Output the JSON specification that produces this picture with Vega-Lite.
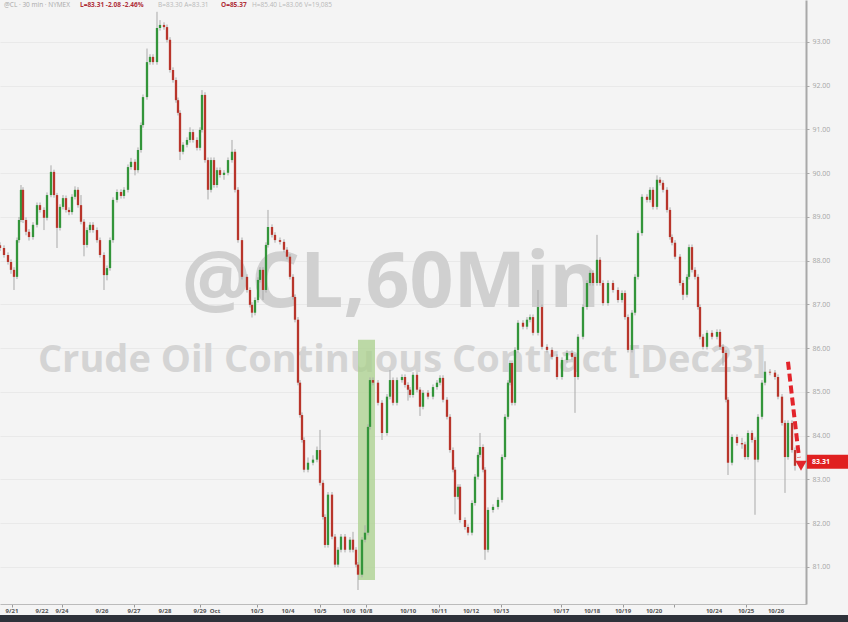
{
 "$schema": "https://vega.github.io/schema/vega-lite/v6.json",
 "width": 806,
 "height": 604,
 "autosize": {"type": "none"},
 "padding": {"left": 0, "top": 0, "right": 42, "bottom": 18},
 "background": "#f4f4f4",
 "config": {"view": {"stroke": null}, "font": "Open Sans"},
 "datasets": {
  "dates": [
   {"t":12,"d":"9/21"},{"t":42,"d":"9/22"},{"t":62,"d":"9/24"},{"t":102,"d":"9/26"},{"t":134,"d":"9/27"},
   {"t":165,"d":"9/28"},{"t":200,"d":"9/29"},{"t":215,"d":"Oct"},{"t":257,"d":"10/3"},{"t":288,"d":"10/4"},
   {"t":320,"d":"10/5"},{"t":349,"d":"10/6"},{"t":366,"d":"10/8"},{"t":408,"d":"10/10"},{"t":439,"d":"10/11"},
   {"t":471,"d":"10/12"},{"t":501,"d":"10/13"},{"t":561,"d":"10/17"},{"t":592,"d":"10/18"},{"t":623,"d":"10/19"},
   {"t":654,"d":"10/20"},{"t":714,"d":"10/24"},{"t":746,"d":"10/25"},{"t":776,"d":"10/26"}
  ],
  "candles": [
   {"t":0,"o":88.35,"c":88.29,"h":88.42,"l":88.22},
   {"t":4,"o":88.29,"c":88.13,"h":88.35,"l":88.07},
   {"t":8,"o":88.13,"c":87.97,"h":88.19,"l":87.91},
   {"t":11,"o":87.97,"c":87.79,"h":88.03,"l":87.70},
   {"t":14,"o":87.79,"c":87.63,"h":87.85,"l":87.33},
   {"t":17,"o":87.63,"c":88.47,"h":88.53,"l":87.58},
   {"t":19,"o":88.47,"c":88.93,"h":89.00,"l":88.41},
   {"t":21,"o":88.93,"c":89.62,"h":89.73,"l":88.88},
   {"t":23,"o":89.62,"c":88.93,"h":89.68,"l":88.86},
   {"t":26,"o":88.93,"c":88.66,"h":88.99,"l":88.58},
   {"t":29,"o":88.66,"c":88.54,"h":88.72,"l":88.46},
   {"t":33,"o":88.54,"c":88.82,"h":88.88,"l":88.48},
   {"t":37,"o":88.82,"c":89.27,"h":89.33,"l":88.76},
   {"t":40,"o":89.27,"c":89.16,"h":89.33,"l":89.10},
   {"t":44,"o":89.16,"c":88.98,"h":89.22,"l":88.70},
   {"t":47,"o":88.98,"c":89.50,"h":89.56,"l":88.92},
   {"t":51,"o":89.50,"c":90.03,"h":90.18,"l":89.45},
   {"t":54,"o":90.03,"c":89.50,"h":90.08,"l":89.44},
   {"t":57,"o":89.50,"c":88.75,"h":89.55,"l":88.29},
   {"t":60,"o":88.75,"c":89.23,"h":89.29,"l":88.69},
   {"t":63,"o":89.23,"c":89.43,"h":89.50,"l":89.17},
   {"t":66,"o":89.43,"c":89.16,"h":89.49,"l":89.10},
   {"t":69,"o":89.16,"c":89.11,"h":89.22,"l":89.04},
   {"t":72,"o":89.11,"c":89.46,"h":89.52,"l":89.05},
   {"t":75,"o":89.46,"c":89.62,"h":89.70,"l":89.40},
   {"t":78,"o":89.62,"c":89.27,"h":89.68,"l":89.21},
   {"t":81,"o":89.27,"c":88.89,"h":89.50,"l":88.83},
   {"t":84,"o":88.89,"c":88.36,"h":88.95,"l":88.10},
   {"t":87,"o":88.36,"c":88.70,"h":88.76,"l":88.30},
   {"t":90,"o":88.70,"c":88.82,"h":88.88,"l":88.64},
   {"t":93,"o":88.82,"c":88.70,"h":88.88,"l":88.64},
   {"t":97,"o":88.70,"c":88.47,"h":88.76,"l":88.41},
   {"t":100,"o":88.47,"c":88.13,"h":88.53,"l":88.07},
   {"t":104,"o":88.13,"c":87.67,"h":88.19,"l":87.33},
   {"t":107,"o":87.67,"c":87.83,"h":87.89,"l":87.55},
   {"t":110,"o":87.83,"c":88.47,"h":88.53,"l":87.77},
   {"t":113,"o":88.47,"c":89.39,"h":89.45,"l":88.41},
   {"t":117,"o":89.39,"c":89.57,"h":89.63,"l":89.33},
   {"t":121,"o":89.57,"c":89.48,"h":89.63,"l":89.42},
   {"t":124,"o":89.48,"c":89.62,"h":89.68,"l":89.42},
   {"t":128,"o":89.62,"c":90.14,"h":90.20,"l":89.56},
   {"t":131,"o":90.14,"c":90.26,"h":90.35,"l":90.08},
   {"t":135,"o":90.26,"c":90.07,"h":90.32,"l":89.95},
   {"t":138,"o":90.07,"c":90.53,"h":90.59,"l":90.01},
   {"t":141,"o":90.53,"c":91.10,"h":91.16,"l":90.47},
   {"t":143,"o":91.10,"c":91.74,"h":91.80,"l":91.04},
   {"t":147,"o":91.74,"c":92.54,"h":92.85,"l":91.68},
   {"t":150,"o":92.54,"c":92.66,"h":92.72,"l":92.48},
   {"t":153,"o":92.66,"c":92.54,"h":92.72,"l":92.48},
   {"t":157,"o":92.54,"c":93.32,"h":93.69,"l":92.48},
   {"t":160,"o":93.32,"c":93.39,"h":93.50,"l":93.26},
   {"t":164,"o":93.39,"c":93.34,"h":93.45,"l":93.28},
   {"t":167,"o":93.34,"c":93.05,"h":93.40,"l":92.99},
   {"t":170,"o":93.05,"c":92.36,"h":93.11,"l":92.30},
   {"t":173,"o":92.36,"c":92.13,"h":92.42,"l":92.07},
   {"t":176,"o":92.13,"c":91.67,"h":92.19,"l":91.61},
   {"t":178,"o":91.67,"c":91.38,"h":91.73,"l":91.32},
   {"t":180,"o":91.38,"c":90.49,"h":91.44,"l":90.30},
   {"t":183,"o":90.49,"c":90.65,"h":90.71,"l":90.43},
   {"t":187,"o":90.65,"c":90.76,"h":90.82,"l":90.59},
   {"t":190,"o":90.76,"c":90.94,"h":91.05,"l":90.70},
   {"t":193,"o":90.94,"c":90.76,"h":91.00,"l":90.70},
   {"t":197,"o":90.76,"c":90.58,"h":90.82,"l":90.52},
   {"t":200,"o":90.58,"c":90.99,"h":91.05,"l":90.52},
   {"t":202,"o":90.99,"c":91.79,"h":91.90,"l":90.93},
   {"t":205,"o":91.79,"c":90.30,"h":91.85,"l":90.24},
   {"t":208,"o":90.30,"c":89.62,"h":90.36,"l":89.40},
   {"t":211,"o":89.62,"c":90.30,"h":90.36,"l":89.56},
   {"t":214,"o":90.30,"c":89.73,"h":90.36,"l":89.67},
   {"t":217,"o":89.73,"c":90.07,"h":90.13,"l":89.67},
   {"t":220,"o":90.07,"c":89.96,"h":90.13,"l":89.90},
   {"t":224,"o":89.96,"c":90.01,"h":90.07,"l":89.85},
   {"t":228,"o":90.01,"c":90.30,"h":90.36,"l":89.95},
   {"t":232,"o":90.30,"c":90.49,"h":90.76,"l":90.24},
   {"t":235,"o":90.49,"c":89.62,"h":90.55,"l":89.56},
   {"t":238,"o":89.62,"c":88.47,"h":89.68,"l":88.41},
   {"t":242,"o":88.47,"c":87.63,"h":88.53,"l":87.57},
   {"t":247,"o":87.63,"c":87.33,"h":87.69,"l":87.27},
   {"t":250,"o":87.33,"c":86.99,"h":87.39,"l":86.93},
   {"t":252,"o":86.99,"c":86.81,"h":87.05,"l":86.70},
   {"t":255,"o":86.81,"c":87.10,"h":87.16,"l":86.75},
   {"t":258,"o":87.10,"c":87.56,"h":87.62,"l":87.04},
   {"t":260,"o":87.56,"c":87.79,"h":87.85,"l":87.50},
   {"t":263,"o":87.79,"c":87.33,"h":87.85,"l":87.10},
   {"t":266,"o":87.33,"c":88.36,"h":88.42,"l":87.27},
   {"t":268,"o":88.36,"c":88.77,"h":89.16,"l":88.30},
   {"t":272,"o":88.77,"c":88.59,"h":88.83,"l":88.53},
   {"t":275,"o":88.59,"c":88.47,"h":88.65,"l":88.41},
   {"t":280,"o":88.47,"c":88.43,"h":88.53,"l":88.37},
   {"t":284,"o":88.43,"c":88.25,"h":88.49,"l":88.19},
   {"t":287,"o":88.25,"c":88.09,"h":88.31,"l":88.03},
   {"t":290,"o":88.09,"c":87.63,"h":88.15,"l":87.57},
   {"t":293,"o":87.63,"c":87.17,"h":87.69,"l":87.11},
   {"t":295,"o":87.17,"c":86.65,"h":87.23,"l":86.59},
   {"t":298,"o":86.65,"c":85.21,"h":86.71,"l":85.15},
   {"t":300,"o":85.21,"c":84.47,"h":85.27,"l":84.41},
   {"t":302,"o":84.47,"c":83.90,"h":84.53,"l":83.84},
   {"t":304,"o":83.90,"c":83.22,"h":83.96,"l":83.16},
   {"t":308,"o":83.22,"c":83.38,"h":83.50,"l":83.16},
   {"t":313,"o":83.38,"c":83.45,"h":83.55,"l":83.32},
   {"t":317,"o":83.45,"c":83.67,"h":83.75,"l":83.39},
   {"t":320,"o":83.67,"c":82.92,"h":84.13,"l":82.86},
   {"t":323,"o":82.92,"c":82.14,"h":82.98,"l":82.08},
   {"t":325,"o":82.14,"c":81.50,"h":82.20,"l":81.44},
   {"t":328,"o":81.50,"c":82.65,"h":82.71,"l":81.44},
   {"t":332,"o":82.65,"c":81.69,"h":82.71,"l":81.63},
   {"t":335,"o":81.69,"c":81.05,"h":81.75,"l":80.99},
   {"t":338,"o":81.05,"c":81.39,"h":81.45,"l":80.99},
   {"t":341,"o":81.39,"c":81.69,"h":81.75,"l":81.33},
   {"t":345,"o":81.69,"c":81.39,"h":81.75,"l":81.33},
   {"t":350,"o":81.39,"c":81.62,"h":81.68,"l":81.33},
   {"t":353,"o":81.62,"c":81.39,"h":81.80,"l":81.33},
   {"t":356,"o":81.39,"c":81.05,"h":81.45,"l":80.99},
   {"t":358,"o":81.05,"c":80.82,"h":81.11,"l":80.47},
   {"t":362,"o":80.82,"c":81.62,"h":81.68,"l":80.76},
   {"t":365,"o":81.62,"c":81.78,"h":81.95,"l":81.56},
   {"t":368,"o":81.78,"c":84.20,"h":84.26,"l":81.72},
   {"t":370,"o":84.20,"c":85.27,"h":85.33,"l":84.14},
   {"t":373,"o":85.27,"c":85.21,"h":85.33,"l":85.15},
   {"t":378,"o":85.21,"c":84.75,"h":85.27,"l":84.69},
   {"t":382,"o":84.75,"c":84.06,"h":84.81,"l":83.90},
   {"t":387,"o":84.06,"c":84.89,"h":84.95,"l":84.00},
   {"t":390,"o":84.89,"c":85.27,"h":85.50,"l":84.83},
   {"t":393,"o":85.27,"c":84.75,"h":85.33,"l":84.69},
   {"t":397,"o":84.75,"c":85.27,"h":85.33,"l":84.69},
   {"t":402,"o":85.27,"c":85.34,"h":85.40,"l":85.21},
   {"t":405,"o":85.34,"c":85.16,"h":85.40,"l":85.10},
   {"t":408,"o":85.16,"c":85.05,"h":85.22,"l":84.80},
   {"t":410,"o":85.05,"c":84.93,"h":85.11,"l":84.87},
   {"t":413,"o":84.93,"c":85.39,"h":85.45,"l":84.87},
   {"t":417,"o":85.39,"c":85.05,"h":85.45,"l":84.99},
   {"t":420,"o":85.05,"c":84.66,"h":85.11,"l":84.45},
   {"t":423,"o":84.66,"c":84.98,"h":85.04,"l":84.60},
   {"t":428,"o":84.98,"c":84.89,"h":85.04,"l":84.83},
   {"t":433,"o":84.89,"c":85.11,"h":85.17,"l":84.83},
   {"t":437,"o":85.11,"c":85.21,"h":85.27,"l":85.05},
   {"t":440,"o":85.21,"c":85.32,"h":85.38,"l":85.15},
   {"t":443,"o":85.32,"c":84.82,"h":85.38,"l":84.76},
   {"t":447,"o":84.82,"c":84.43,"h":84.88,"l":84.37},
   {"t":450,"o":84.43,"c":83.67,"h":84.49,"l":83.61},
   {"t":453,"o":83.67,"c":83.22,"h":83.73,"l":83.16},
   {"t":455,"o":83.22,"c":82.60,"h":83.28,"l":82.20},
   {"t":458,"o":82.60,"c":82.83,"h":82.89,"l":82.54},
   {"t":460,"o":82.83,"c":82.07,"h":82.89,"l":82.01},
   {"t":465,"o":82.07,"c":81.91,"h":82.13,"l":81.85},
   {"t":468,"o":81.91,"c":81.78,"h":81.97,"l":81.72},
   {"t":472,"o":81.78,"c":82.46,"h":82.52,"l":81.72},
   {"t":475,"o":82.46,"c":83.06,"h":83.12,"l":82.40},
   {"t":478,"o":83.06,"c":83.56,"h":83.62,"l":83.00},
   {"t":480,"o":83.56,"c":83.74,"h":84.06,"l":83.50},
   {"t":483,"o":83.74,"c":83.22,"h":83.80,"l":83.16},
   {"t":485,"o":83.22,"c":81.39,"h":83.28,"l":81.16},
   {"t":488,"o":81.39,"c":82.30,"h":82.36,"l":81.33},
   {"t":493,"o":82.30,"c":82.37,"h":82.43,"l":82.24},
   {"t":498,"o":82.37,"c":82.53,"h":82.59,"l":82.31},
   {"t":502,"o":82.53,"c":83.51,"h":83.57,"l":82.47},
   {"t":505,"o":83.51,"c":84.43,"h":84.49,"l":83.45},
   {"t":508,"o":84.43,"c":85.21,"h":85.27,"l":84.37},
   {"t":510,"o":85.21,"c":85.66,"h":85.72,"l":85.15},
   {"t":512,"o":85.66,"c":84.75,"h":85.72,"l":84.69},
   {"t":515,"o":84.75,"c":85.96,"h":86.02,"l":84.69},
   {"t":518,"o":85.96,"c":86.58,"h":86.64,"l":85.90},
   {"t":523,"o":86.58,"c":86.49,"h":86.64,"l":86.43},
   {"t":527,"o":86.49,"c":86.65,"h":86.71,"l":86.43},
   {"t":530,"o":86.65,"c":86.71,"h":86.77,"l":86.59},
   {"t":533,"o":86.71,"c":86.35,"h":86.77,"l":86.29},
   {"t":538,"o":86.35,"c":86.94,"h":87.33,"l":86.29},
   {"t":542,"o":86.94,"c":86.03,"h":87.00,"l":85.97},
   {"t":547,"o":86.03,"c":85.96,"h":86.09,"l":85.90},
   {"t":552,"o":85.96,"c":85.80,"h":86.02,"l":85.74},
   {"t":557,"o":85.80,"c":85.34,"h":85.86,"l":85.28},
   {"t":562,"o":85.34,"c":85.73,"h":85.79,"l":85.28},
   {"t":567,"o":85.73,"c":85.89,"h":85.95,"l":85.67},
   {"t":572,"o":85.89,"c":85.80,"h":85.95,"l":85.74},
   {"t":575,"o":85.80,"c":85.34,"h":85.86,"l":84.52},
   {"t":578,"o":85.34,"c":86.26,"h":86.32,"l":85.28},
   {"t":583,"o":86.26,"c":86.94,"h":87.00,"l":86.20},
   {"t":587,"o":86.94,"c":87.49,"h":87.55,"l":86.88},
   {"t":590,"o":87.49,"c":87.72,"h":87.78,"l":87.43},
   {"t":593,"o":87.72,"c":87.49,"h":87.78,"l":87.43},
   {"t":597,"o":87.49,"c":88.02,"h":88.59,"l":87.43},
   {"t":600,"o":88.02,"c":87.49,"h":88.08,"l":87.43},
   {"t":603,"o":87.49,"c":87.03,"h":87.55,"l":86.97},
   {"t":608,"o":87.03,"c":87.49,"h":87.55,"l":86.97},
   {"t":613,"o":87.49,"c":87.33,"h":87.55,"l":87.27},
   {"t":618,"o":87.33,"c":87.10,"h":87.39,"l":87.04},
   {"t":622,"o":87.10,"c":87.26,"h":87.32,"l":87.04},
   {"t":625,"o":87.26,"c":86.71,"h":87.32,"l":86.65},
   {"t":628,"o":86.71,"c":85.96,"h":86.77,"l":85.90},
   {"t":632,"o":85.96,"c":86.81,"h":86.87,"l":85.90},
   {"t":635,"o":86.81,"c":87.63,"h":87.69,"l":86.75},
   {"t":638,"o":87.63,"c":88.63,"h":88.69,"l":87.57},
   {"t":642,"o":88.63,"c":89.46,"h":89.52,"l":88.57},
   {"t":647,"o":89.46,"c":89.39,"h":89.52,"l":89.33},
   {"t":650,"o":89.39,"c":89.62,"h":89.68,"l":89.33},
   {"t":653,"o":89.62,"c":89.23,"h":89.68,"l":89.17},
   {"t":657,"o":89.23,"c":89.85,"h":89.95,"l":89.17},
   {"t":660,"o":89.85,"c":89.78,"h":89.91,"l":89.72},
   {"t":663,"o":89.78,"c":89.62,"h":89.84,"l":89.56},
   {"t":667,"o":89.62,"c":89.16,"h":89.68,"l":89.10},
   {"t":670,"o":89.16,"c":88.54,"h":89.22,"l":88.48},
   {"t":672,"o":88.54,"c":88.41,"h":88.60,"l":88.35},
   {"t":675,"o":88.41,"c":88.09,"h":88.47,"l":88.03},
   {"t":680,"o":88.09,"c":87.49,"h":88.15,"l":87.43},
   {"t":683,"o":87.49,"c":87.22,"h":87.55,"l":87.10},
   {"t":687,"o":87.22,"c":87.63,"h":87.69,"l":87.16},
   {"t":689,"o":87.63,"c":88.31,"h":88.37,"l":87.57},
   {"t":692,"o":88.31,"c":87.79,"h":88.37,"l":87.73},
   {"t":695,"o":87.79,"c":87.63,"h":87.85,"l":87.57},
   {"t":698,"o":87.63,"c":86.94,"h":87.69,"l":86.88},
   {"t":700,"o":86.94,"c":86.26,"h":87.00,"l":86.20},
   {"t":703,"o":86.26,"c":86.03,"h":86.32,"l":85.97},
   {"t":707,"o":86.03,"c":86.35,"h":86.41,"l":85.97},
   {"t":712,"o":86.35,"c":86.26,"h":86.41,"l":86.20},
   {"t":717,"o":86.26,"c":86.37,"h":86.43,"l":86.20},
   {"t":720,"o":86.37,"c":86.03,"h":86.43,"l":85.97},
   {"t":723,"o":86.03,"c":85.89,"h":86.09,"l":85.60},
   {"t":726,"o":85.89,"c":84.82,"h":85.95,"l":84.76},
   {"t":728,"o":84.82,"c":83.38,"h":84.88,"l":83.10},
   {"t":732,"o":83.38,"c":83.97,"h":84.03,"l":83.32},
   {"t":737,"o":83.97,"c":83.83,"h":84.03,"l":83.77},
   {"t":742,"o":83.83,"c":83.80,"h":83.95,"l":83.70},
   {"t":745,"o":83.80,"c":83.51,"h":83.86,"l":83.45},
   {"t":748,"o":83.51,"c":84.06,"h":84.12,"l":83.45},
   {"t":752,"o":84.06,"c":83.90,"h":84.12,"l":83.84},
   {"t":755,"o":83.90,"c":83.45,"h":83.96,"l":82.19},
   {"t":758,"o":83.45,"c":84.43,"h":84.49,"l":83.39},
   {"t":762,"o":84.43,"c":85.21,"h":85.27,"l":84.37},
   {"t":765,"o":85.21,"c":85.46,"h":85.70,"l":85.15},
   {"t":770,"o":85.46,"c":85.44,"h":85.52,"l":85.38},
   {"t":775,"o":85.44,"c":85.34,"h":85.50,"l":85.28},
   {"t":778,"o":85.34,"c":84.89,"h":85.40,"l":84.83},
   {"t":782,"o":84.89,"c":84.29,"h":84.95,"l":84.23},
   {"t":785,"o":84.29,"c":83.51,"h":84.35,"l":82.69},
   {"t":788,"o":83.51,"c":84.29,"h":84.35,"l":83.45},
   {"t":792,"o":84.29,"c":83.67,"h":84.35,"l":83.61},
   {"t":795,"o":83.67,"c":83.31,"h":83.73,"l":83.20}
  ]
 },
 "layer": [
  {
   "data": {"name": "candles"},
   "mark": {"type": "rule", "strokeWidth": 0, "opacity": 0},
   "encoding": {
    "x": {"field": "t", "type": "quantitative", "scale": {"domain": [0, 806], "nice": false, "zero": false},
     "axis": {"title": null, "values": [12,42,62,102,134,165,200,215,257,288,320,349,366,408,439,471,501,521,561,592,623,654,674,714,746,776],
      "labels": false, "tickSize": 3, "tickColor": "#9a9a9a", "domainColor": "#bbbbbb", "grid": false}},
    "y": {"field": "o", "type": "quantitative", "scale": {"domain": [80.15, 93.96], "nice": false, "zero": false},
     "axis": {"orient": "right", "title": null, "values": [81,82,83,84,85,86,87,88,89,90,91,92,93], "format": ".2f",
      "labelFontSize": 7, "labelColor": "#a5a5a5", "labelPadding": 3, "tickSize": 3, "tickColor": "#aaaaaa",
      "domainColor": "#a8a8a8", "domainWidth": 2, "grid": true, "gridColor": "#e9e9e9", "gridWidth": 1}}
   }
  },
  {
   "data": {"name": "dates"},
   "mark": {"type": "text", "fontSize": 6, "fontWeight": "bold", "color": "#555555", "align": "center", "baseline": "middle"},
   "encoding": {
    "x": {"field": "t", "type": "quantitative"},
    "y": {"datum": 80.0, "type": "quantitative"},
    "text": {"field": "d"}
   }
  },
  {
   "data": {"values": [{"label": "@CL,60Min"}]},
   "mark": {"type": "text", "font": "Open Sans", "fontWeight": "bold", "fontSize": 77, "color": "#d0d0d0", "align": "center", "baseline": "alphabetic"},
   "encoding": {
    "x": {"datum": 391, "type": "quantitative"},
    "y": {"datum": 86.94, "type": "quantitative"},
    "text": {"field": "label"}
   }
  },
  {
   "data": {"values": [{"label": "Crude Oil Continuous Contract [Dec23]"}]},
   "mark": {"type": "text", "font": "Open Sans", "fontWeight": "bold", "fontSize": 38, "color": "#d4d4d4", "align": "center", "baseline": "alphabetic"},
   "encoding": {
    "x": {"datum": 402, "type": "quantitative"},
    "y": {"datum": 85.46, "type": "quantitative"},
    "text": {"field": "label"}
   }
  },
  {
   "data": {"values": [{}]},
   "mark": {"type": "rect", "color": "#a9d08c", "opacity": 0.75},
   "encoding": {
    "x": {"datum": 358, "type": "quantitative"},
    "x2": {"datum": 375},
    "y": {"datum": 86.19, "type": "quantitative"},
    "y2": {"datum": 80.70}
   }
  },
  {
   "data": {"name": "candles"},
   "mark": {"type": "rule", "color": "#a9a9a9", "strokeWidth": 1},
   "encoding": {
    "x": {"field": "t", "type": "quantitative"},
    "y": {"field": "l", "type": "quantitative"},
    "y2": {"field": "h"}
   }
  },
  {
   "data": {"name": "candles"},
   "mark": {"type": "rule", "strokeWidth": 2.3},
   "encoding": {
    "x": {"field": "t", "type": "quantitative"},
    "y": {"field": "o", "type": "quantitative"},
    "y2": {"field": "c"},
    "color": {"condition": {"test": "datum.c >= datum.o", "value": "#33953a"}, "value": "#b8352b"}
   }
  },
  {
   "data": {"values": [{}]},
   "mark": {"type": "rule", "color": "#e3242b", "strokeWidth": 4, "strokeDash": [8, 4]},
   "encoding": {
    "x": {"datum": 788, "type": "quantitative"},
    "x2": {"datum": 799},
    "y": {"datum": 85.69, "type": "quantitative"},
    "y2": {"datum": 83.50}
   }
  },
  {
   "data": {"values": [{}]},
   "mark": {"type": "point", "shape": "triangle-down", "filled": true, "color": "#e3242b", "opacity": 1, "size": 130},
   "encoding": {
    "x": {"datum": 801, "type": "quantitative"},
    "y": {"datum": 83.31, "type": "quantitative"}
   }
  },
  {
   "data": {"values": [{}]},
   "mark": {"type": "rect", "color": "#e02020"},
   "encoding": {
    "x": {"datum": 807, "type": "quantitative"},
    "x2": {"datum": 850},
    "y": {"datum": 83.56, "type": "quantitative"},
    "y2": {"datum": 83.24}
   }
  },
  {
   "data": {"values": [{"label": "83.31"}]},
   "mark": {"type": "text", "color": "white", "fontSize": 7, "fontWeight": "bold", "align": "left", "baseline": "middle"},
   "encoding": {
    "x": {"datum": 812, "type": "quantitative"},
    "y": {"datum": 83.40, "type": "quantitative"},
    "text": {"field": "label"}
   }
  },
  {
   "data": {"values": [{"label": "@CL · 30 min · NYMEX"}]},
   "mark": {"type": "text", "color": "#a8a8a8", "fontSize": 6.5, "align": "left", "baseline": "middle"},
   "encoding": {
    "x": {"datum": 4, "type": "quantitative"},
    "y": {"datum": 93.84, "type": "quantitative"},
    "text": {"field": "label"}
   }
  },
  {
   "data": {"values": [{"label": "L=83.31  -2.08  -2.46%"}]},
   "mark": {"type": "text", "color": "#b0303a", "fontSize": 6.5, "fontWeight": "bold", "align": "left", "baseline": "middle"},
   "encoding": {
    "x": {"datum": 80, "type": "quantitative"},
    "y": {"datum": 93.84, "type": "quantitative"},
    "text": {"field": "label"}
   }
  },
  {
   "data": {"values": [{"label": "B=83.30  A=83.31"}]},
   "mark": {"type": "text", "color": "#b8b8b8", "fontSize": 6.5, "align": "left", "baseline": "middle"},
   "encoding": {
    "x": {"datum": 158, "type": "quantitative"},
    "y": {"datum": 93.84, "type": "quantitative"},
    "text": {"field": "label"}
   }
  },
  {
   "data": {"values": [{"label": "O=85.37"}]},
   "mark": {"type": "text", "color": "#b0303a", "fontSize": 6.5, "fontWeight": "bold", "align": "left", "baseline": "middle"},
   "encoding": {
    "x": {"datum": 221, "type": "quantitative"},
    "y": {"datum": 93.84, "type": "quantitative"},
    "text": {"field": "label"}
   }
  },
  {
   "data": {"values": [{"label": "H=85.40  L=83.06  V=19,085"}]},
   "mark": {"type": "text", "color": "#b8b8b8", "fontSize": 6.5, "align": "left", "baseline": "middle"},
   "encoding": {
    "x": {"datum": 252, "type": "quantitative"},
    "y": {"datum": 93.84, "type": "quantitative"},
    "text": {"field": "label"}
   }
  },
  {
   "data": {"values": [{}]},
   "mark": {"type": "rect", "color": "#2e323a"},
   "encoding": {
    "x": {"datum": 0, "type": "quantitative"},
    "x2": {"datum": 860},
    "y": {"datum": 79.90, "type": "quantitative"},
    "y2": {"datum": 79.40}
   }
  }
 ]
}
